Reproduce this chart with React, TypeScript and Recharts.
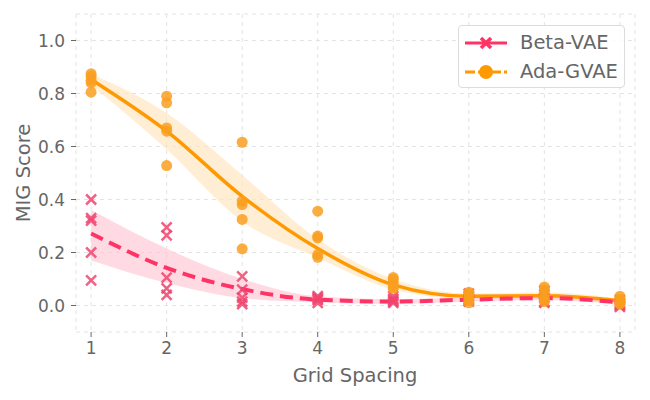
import React from 'react';
import {
  ComposedChart,
  Line,
  Area,
  Scatter,
  XAxis,
  YAxis,
  CartesianGrid,
  Legend,
} from 'recharts';

// grid spacing values on the x axis
const spacings = [1, 2, 3, 4, 5, 6, 7, 8];
const xTicks = [1, 2, 3, 4, 5, 6, 7, 8];
const yTicks = [0, 0.2, 0.4, 0.6, 0.8, 1.0];

// raw MIG scores per spacing (5 runs each)
const betaScores = [
  [0.4, 0.33, 0.32, 0.2, 0.095],
  [0.295, 0.265, 0.105, 0.065, 0.04],
  [0.11, 0.06, 0.03, 0.015, 0.005],
  [0.035, 0.03, 0.025, 0.02, 0.01],
  [0.035, 0.025, 0.02, 0.015, 0.01],
  [0.045, 0.035, 0.025, 0.02, 0.015],
  [0.055, 0.04, 0.03, 0.015, 0.01],
  [0.02, 0.01, 0.005, 0.0, -0.005],
];
const adaScores = [
  [0.875, 0.865, 0.85, 0.84, 0.805],
  [0.79, 0.765, 0.67, 0.658, 0.528],
  [0.616, 0.394, 0.381, 0.325, 0.214],
  [0.356, 0.262, 0.255, 0.192, 0.182],
  [0.106, 0.098, 0.085, 0.07, 0.065],
  [0.05, 0.045, 0.03, 0.02, 0.01],
  [0.07, 0.06, 0.04, 0.025, 0.015],
  [0.035, 0.025, 0.015, 0.01, 0.005],
];

// smoothed fit + confidence band
const betaFit = [0.272, 0.142, 0.062, 0.022, 0.015, 0.022, 0.028, 0.012];
const betaLow = [0.17, 0.085, 0.028, 0.012, 0.006, 0.015, 0.02, 0.005];
const betaHigh = [0.36, 0.215, 0.1, 0.035, 0.024, 0.03, 0.038, 0.02];
const adaFit = [0.853, 0.658, 0.412, 0.215, 0.078, 0.035, 0.037, 0.018];
const adaLow = [0.832, 0.59, 0.318, 0.18, 0.06, 0.025, 0.025, 0.01];
const adaHigh = [0.874, 0.726, 0.492, 0.25, 0.1, 0.045, 0.05, 0.025];

const BETA = '#ff3366';
const BETA_PT = '#f0456f';
const ADA = '#ff9900';
const ADA_PT = '#f99f1f';
const TEXT = '#666666';

const curveData = spacings.map((x, i) => ({
  x,
  betaFit: betaFit[i],
  betaBand: [betaLow[i], betaHigh[i]],
  adaFit: adaFit[i],
  adaBand: [adaLow[i], adaHigh[i]],
}));

const flatten = (scores: number[][]) =>
  scores.flatMap((row, i) => row.map((y) => ({ x: spacings[i], y })));

const betaPoints = flatten(betaScores);
const adaPoints = flatten(adaScores);

const Cross = (props: any) => {
  const { cx, cy } = props;
  const s = 5;
  return (
    <g stroke={BETA_PT} strokeWidth={2.5} opacity={0.85}>
      <line x1={cx - s} y1={cy - s} x2={cx + s} y2={cy + s} />
      <line x1={cx - s} y1={cy + s} x2={cx + s} y2={cy - s} />
    </g>
  );
};

const Dot = (props: any) => {
  const { cx, cy } = props;
  return <circle cx={cx} cy={cy} r={5.5} fill={ADA_PT} opacity={0.85} />;
};

const LegendBox = () => (
  <div
    style={{
      width: 167,
      height: 63,
      border: '1px solid #dcdcdc',
      borderRadius: 4,
      background: 'rgba(255,255,255,0.85)',
      boxSizing: 'border-box',
      fontSize: 19.5,
      color: TEXT,
      paddingTop: 2,
    }}
  >
    <div style={{ display: 'flex', alignItems: 'center', height: 29 }}>
      <svg width={61} height={20}>
        <line x1={6} y1={10} x2={48} y2={10} stroke={BETA} strokeWidth={3} />
        <g stroke={BETA} strokeWidth={3.5}>
          <line x1={22} y1={5} x2={32} y2={15} />
          <line x1={22} y1={15} x2={32} y2={5} />
        </g>
      </svg>
      <span>Beta-VAE</span>
    </div>
    <div style={{ display: 'flex', alignItems: 'center', height: 29 }}>
      <svg width={61} height={20}>
        <line x1={6} y1={10} x2={48} y2={10} stroke={ADA} strokeWidth={3} strokeDasharray="10 3" />
        <circle cx={27} cy={10} r={7} fill={ADA} />
      </svg>
      <span>Ada-GVAE</span>
    </div>
  </div>
);

export default function App() {
  return (
    <div
      style={{
        position: 'absolute',
        left: 0,
        top: 0,
        width: 650,
        height: 400,
        background: '#fff',
        fontFamily: '"DejaVu Sans", sans-serif',
      }}
    >
      <ComposedChart
        width={650}
        height={400}
        data={curveData}
        margin={{ top: 14, right: 15, bottom: 0, left: 0 }}
      >
        <CartesianGrid stroke="#e4e4e4" strokeDasharray="4 4" />
        <XAxis
          dataKey="x"
          type="number"
          domain={[0.8, 8.2]}
          ticks={xTicks}
          axisLine={false}
          tickLine={{ stroke: '#666' }}
          tickSize={5}
          tickMargin={5}
          height={68}
          tick={{ fill: TEXT, fontSize: 17 }}
          label={{
            content: () => (
              <text x={355} y={382} textAnchor="middle" fill={TEXT} fontSize={19.5}>
                Grid Spacing
              </text>
            ),
          }}
        />
        <YAxis
          type="number"
          domain={[-0.1, 1.1]}
          ticks={yTicks}
          tickFormatter={(v: number) => v.toFixed(1)}
          axisLine={false}
          tickLine={{ stroke: '#666' }}
          tickSize={5}
          tickMargin={6}
          width={76}
          tick={{ fill: TEXT, fontSize: 17 }}
          label={{
            content: () => (
              <text
                x={23}
                y={173}
                textAnchor="middle"
                dominantBaseline="central"
                transform="rotate(-90 23 173)"
                fill={TEXT}
                fontSize={19.5}
              >
                MIG Score
              </text>
            ),
          }}
        />
        <Area
          dataKey="adaBand"
          type="monotone"
          stroke="none"
          fill="#ffe3bd"
          fillOpacity={0.65}
          isAnimationActive={false}
          legendType="none"
        />
        <Area
          dataKey="betaBand"
          type="monotone"
          stroke="none"
          fill="#ffc2d1"
          fillOpacity={0.6}
          isAnimationActive={false}
          legendType="none"
        />
        <Scatter data={betaPoints} dataKey="y" shape={<Cross />} isAnimationActive={false} />
        <Scatter data={adaPoints} dataKey="y" shape={<Dot />} isAnimationActive={false} />
        <Line
          dataKey="adaFit"
          type="monotone"
          stroke={ADA}
          strokeWidth={3.5}
          dot={false}
          isAnimationActive={false}
        />
        <Line
          dataKey="betaFit"
          type="monotone"
          stroke={BETA}
          strokeWidth={4}
          strokeDasharray="13 7"
          dot={false}
          isAnimationActive={false}
        />
        <Legend
          layout="vertical"
          align="center"
          verticalAlign="middle"
          content={() => <LegendBox />}
          wrapperStyle={{ left: 458, top: 25, width: 167, height: 63 }}
        />
      </ComposedChart>
    </div>
  );
}
